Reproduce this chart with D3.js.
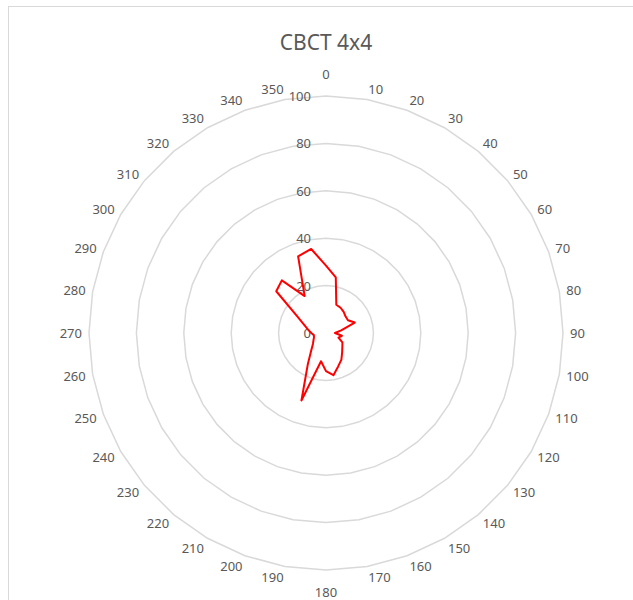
<!DOCTYPE html>
<html>
<head>
<meta charset="utf-8">
<script src="https://cdn.jsdelivr.net/npm/d3@7"></script>
<style>
  html, body { margin: 0; padding: 0; background: #fff; }
  svg { display: block; }
</style>
</head>
<body>
<svg id="chart" width="633" height="600"></svg>
<script>
const title = "CBCT 4x4";
const categories = [0,10,20,30,40,50,60,70,80,90,100,110,120,130,140,150,160,170,180,190,200,210,220,230,240,250,260,270,280,290,300,310,320,330,340,350];
const values = [28.4,23.8,12.7,12.3,11.6,10.8,10.7,12.9,6.5,3.8,6.8,5.6,8.0,9.0,10.6,13.0,15.0,18.1,16.1,12.1,30.3,15.4,9.7,7.2,6.1,5.4,5.2,6.2,7.6,9.7,14.0,27.4,29.0,18.0,34.4,36.0];
const tickValues = [0,20,40,60,80,100];

const W = 633, H = 600;
const cx = 326, cy = 333, R = 237;
const font = "'Noto Sans', 'Open Sans', sans-serif";
const textColor = "#595959";

const svg = d3.select("#chart");

// chart area border
svg.append("rect")
  .attr("x", 8.5).attr("y", 6.5)
  .attr("width", W + 10).attr("height", H + 10)
  .attr("fill", "#fff").attr("stroke", "#d9d9d9").attr("stroke-width", 1);

const angle = d3.scaleBand().domain(categories).range([0, 2 * Math.PI]).align(0).paddingInner(0).paddingOuter(0);
const ang = c => angle(c);
const r = d3.scaleLinear().domain([0, 100]).range([0, R]);

const g = svg.append("g").attr("transform", `translate(${cx},${cy})`);

// grid rings (polygons)
const ringLine = d3.lineRadial().angle(d => ang(d)).curve(d3.curveLinearClosed);
tickValues.filter(t => t > 0).forEach(t => {
  g.append("path")
    .attr("d", ringLine.radius(() => r(t))(categories))
    .attr("fill", "none")
    .attr("stroke", "#d9d9d9")
    .attr("stroke-width", 1.5);
});

// tick labels
g.selectAll("text.tick").data(tickValues).join("text")
  .attr("class", "tick")
  .attr("x", -15)
  .attr("y", d => -r(d))
  .attr("text-anchor", "end")
  .attr("dominant-baseline", "central")
  .attr("font-family", font)
  .attr("font-size", 13)
  .attr("fill", textColor)
  .text(d => d);

// category labels
const fs = 13;
g.selectAll("text.cat").data(categories).join("text")
  .attr("class", "cat")
  .attr("font-family", font)
  .attr("font-size", fs)
  .attr("fill", textColor)
  .attr("text-anchor", "middle")
  .attr("dominant-baseline", "central")
  .text(d => d)
  .each(function(d) {
    const a = ang(d);
    const s = Math.sin(a), c = Math.cos(a);
    const hw = this.getComputedTextLength() / 2;
    const d0 = R + 7;
    let x = d0 * s, y = -d0 * c - 4 * c;
    if (Math.abs(s) > 0.01) x += hw * Math.sign(s);
    else y += -11 * Math.sign(c);
    d3.select(this).attr("x", x).attr("y", y);
  });

// data series
const dataLine = d3.lineRadial()
  .angle((d, i) => ang(categories[i]))
  .radius(d => r(d))
  .curve(d3.curveLinearClosed);
g.append("path")
  .attr("d", dataLine(values))
  .attr("fill", "none")
  .attr("stroke", "#ff0000")
  .attr("stroke-width", 2)
  .attr("stroke-linejoin", "round");

// title
svg.append("text")
  .attr("x", cx).attr("y", 42)
  .attr("text-anchor", "middle")
  .attr("dominant-baseline", "central")
  .attr("font-family", font)
  .attr("font-size", 21)
  .attr("fill", textColor)
  .text(title);
</script>
</body>
</html>
